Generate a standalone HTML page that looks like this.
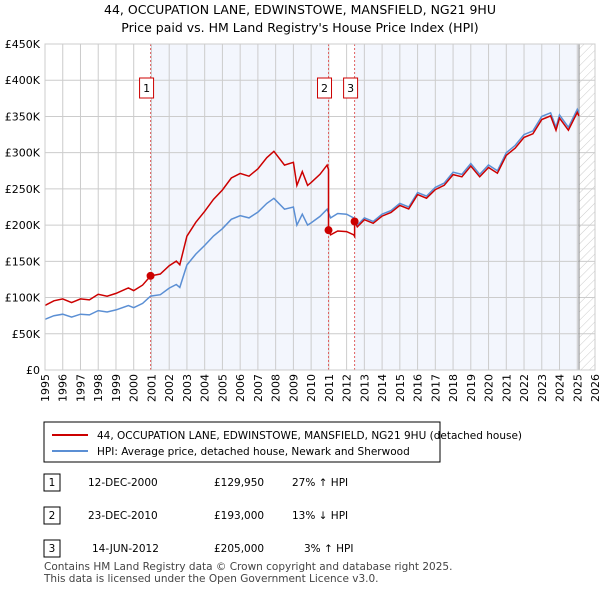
<!DOCTYPE html>
<html><head><meta charset="utf-8"><style>
body{margin:0;background:#fff;font-family:"Liberation Sans","DejaVu Sans",sans-serif;}
svg text{font-family:"DejaVu Sans","Liberation Sans",sans-serif;}
</style></head><body>
<svg id="c" width="600" height="590" xmlns="http://www.w3.org/2000/svg">
<defs><pattern id="h" width="6" height="6" patternUnits="userSpaceOnUse" patternTransform="rotate(45)"><line x1="0" y1="0" x2="0" y2="6" stroke="#ccc" stroke-width="1"/></pattern></defs>
<text x="300" y="14" text-anchor="middle" font-size="12.5">44, OCCUPATION LANE, EDWINSTOWE, MANSFIELD, NG21 9HU</text>
<text x="300" y="32" text-anchor="middle" font-size="12.5">Price paid vs. HM Land Registry's House Price Index (HPI)</text>
<g id="plot"></g>
<rect x="44" y="422" width="396" height="40" fill="#fff" stroke="#000" stroke-width="1"/>
<line x1="52" y1="435" x2="88" y2="435" stroke="#cc0000" stroke-width="2"/>
<text x="97" y="439" font-size="10.5">44, OCCUPATION LANE, EDWINSTOWE, MANSFIELD, NG21 9HU (detached house)</text>
<line x1="52" y1="451" x2="88" y2="451" stroke="#5b8fd4" stroke-width="2"/>
<text x="97" y="455" font-size="10.5">HPI: Average price, detached house, Newark and Sherwood</text>
<g font-size="10.5">
<rect x="44" y="474" width="16" height="17" fill="#fff" stroke="#000"/><text x="52" y="486" text-anchor="middle">1</text>
<text x="88" y="486">12-DEC-2000</text><text x="214" y="486">£129,950</text><text x="292" y="486">27% ↑ HPI</text>
<rect x="44" y="507" width="16" height="17" fill="#fff" stroke="#000"/><text x="52" y="519" text-anchor="middle">2</text>
<text x="88" y="519">23-DEC-2010</text><text x="214" y="519">£193,000</text><text x="292" y="519">13% ↓ HPI</text>
<rect x="44" y="540" width="16" height="17" fill="#fff" stroke="#000"/><text x="52" y="552" text-anchor="middle">3</text>
<text x="92" y="552">14-JUN-2012</text><text x="214" y="552">£205,000</text><text x="304" y="552">3% ↑ HPI</text>
</g>
<text x="44" y="570" font-size="10.5" fill="#444">Contains HM Land Registry data © Crown copyright and database right 2025.</text>
<text x="44" y="582" font-size="10.5" fill="#444">This data is licensed under the Open Government Licence v3.0.</text>
</svg>
<script>
const hpiT=[1995,1995.5,1996,1996.5,1997,1997.5,1998,1998.5,1999,1999.7,2000,2000.5,2000.95,2001.5,2002,2002.4,2002.6,2003,2003.5,2004,2004.5,2005,2005.5,2006,2006.5,2007,2007.5,2007.9,2008.5,2009,2009.2,2009.5,2009.8,2010,2010.5,2010.9,2011.1,2011.5,2012,2012.4,2012.6,2013,2013.5,2014,2014.5,2015,2015.5,2016,2016.5,2017,2017.5,2018,2018.5,2019,2019.5,2020,2020.5,2021,2021.5,2022,2022.5,2023,2023.5,2023.8,2024,2024.5,2025,2025.1];
const hpiV=[70,75,77,73,77,76,82,80,83,89,86,92,102,104,113,118,114,145,160,172,185,195,208,213,210,218,230,237,222,225,200,215,200,203,212,222,210,216,215,210,200,210,205,215,220,230,225,245,240,252,258,273,270,285,270,283,275,300,310,325,330,350,355,335,352,335,360,355];
const saleT=[2000.95,2010.98,2012.45];
const saleV=[129950,193000,205000];
const saleLbl=["1","2","3"];
const yTicks=[0,50,100,150,200,250,300,350,400,450];
const yLbls=["£0","£50K","£100K","£150K","£200K","£250K","£300K","£350K","£400K","£450K"];
const years=[1995,1996,1997,1998,1999,2000,2001,2002,2003,2004,2005,2006,2007,2008,2009,2010,2011,2012,2013,2014,2015,2016,2017,2018,2019,2020,2021,2022,2023,2024,2025,2026];
const X=t=>45+(t-1995)*550/31, Y=v=>370-v*326/450;
const g=document.getElementById('plot'),NS="http://www.w3.org/2000/svg";
function mk(tag,a,p){const e=document.createElementNS(NS,tag);for(const k in a)e.setAttribute(k,a[k]);(p||g).appendChild(e);return e;}
function hpiAt(t){for(let i=1;i<hpiT.length;i++)if(t<=hpiT[i]){const f=(t-hpiT[i-1])/(hpiT[i]-hpiT[i-1]);return hpiV[i-1]+f*(hpiV[i]-hpiV[i-1]);}return hpiV[hpiV.length-1];}
let e;
e=mk('rect',{x:X(saleT[0]),y:44,width:X(saleT[1])-X(saleT[0]),height:326,fill:'#f3f6fd'});

e=mk('rect',{x:X(saleT[2]),y:44,width:X(2025.1)-X(saleT[2]),height:326,fill:'#f3f6fd'});

e=mk('rect',{x:X(2025.1),y:44,width:595-X(2025.1),height:326,fill:'url(#h)'});

years.forEach(yr=>{e=mk('line',{x1:X(yr),x2:X(yr),y1:44,y2:370,stroke:'#ccc'});

e=mk('text',{x:0,y:0,'font-size':11,'text-anchor':'end',transform:`translate(${X(yr)+4},374) rotate(-90)`});e.textContent=yr;
});
yTicks.forEach((v,i)=>{e=mk('line',{x1:45,x2:595,y1:Y(v),y2:Y(v),stroke:'#ccc'});

e=mk('text',{x:40,y:Y(v)+4,'font-size':11,'text-anchor':'end'});e.textContent=yLbls[i];
});
e=mk('line',{x1:X(2025.1),x2:X(2025.1),y1:44,y2:370,stroke:'#888'});

saleT.forEach((t,i)=>{e=mk('line',{x1:X(t),x2:X(t),y1:44,y2:370,stroke:'#e06060','stroke-dasharray':'2,2'});
});
let pb=hpiT.map((t,i)=>X(t).toFixed(1)+','+Y(hpiV[i]).toFixed(1)).join(' ');
e=mk('polyline',{points:pb,fill:'none',stroke:'#5b8fd4','stroke-width':1.5});

function ratio(t){let k=0;for(let i=0;i<saleT.length;i++)if(t>=saleT[i])k=i;return saleV[k]/1000/hpiAt(saleT[k]);}
let pts=[];hpiT.forEach((t,i)=>{for(let s=0;s<saleT.length;s++){if(i>0&&hpiT[i-1]<saleT[s]&&t>saleT[s]){const h=hpiAt(saleT[s]);if(s>0)pts.push([saleT[s],h*ratio(saleT[s]-0.001)]);pts.push([saleT[s],saleV[s]/1000]);}}pts.push([t,hpiV[i]*ratio(t)]);});
e=mk('polyline',{points:pts.map(p=>X(p[0]).toFixed(1)+','+Y(p[1]).toFixed(1)).join(' '),fill:'none',stroke:'#cc0000','stroke-width':1.5});

saleT.forEach((t,i)=>{e=mk('circle',{cx:X(t),cy:Y(saleV[i]/1000),r:4,fill:'#cc0000'});

const bx=X(t)-11;
e=mk('rect',{x:bx,y:78,width:14,height:20,fill:'#fff',stroke:'#cc0000'});

e=mk('text',{x:bx+7,y:92,'font-size':11,'text-anchor':'middle'});e.textContent=saleLbl[i];
});
e=mk('rect',{x:45,y:44,width:550,height:326,fill:'none',stroke:'#ccc'});

</script>
</body></html>
